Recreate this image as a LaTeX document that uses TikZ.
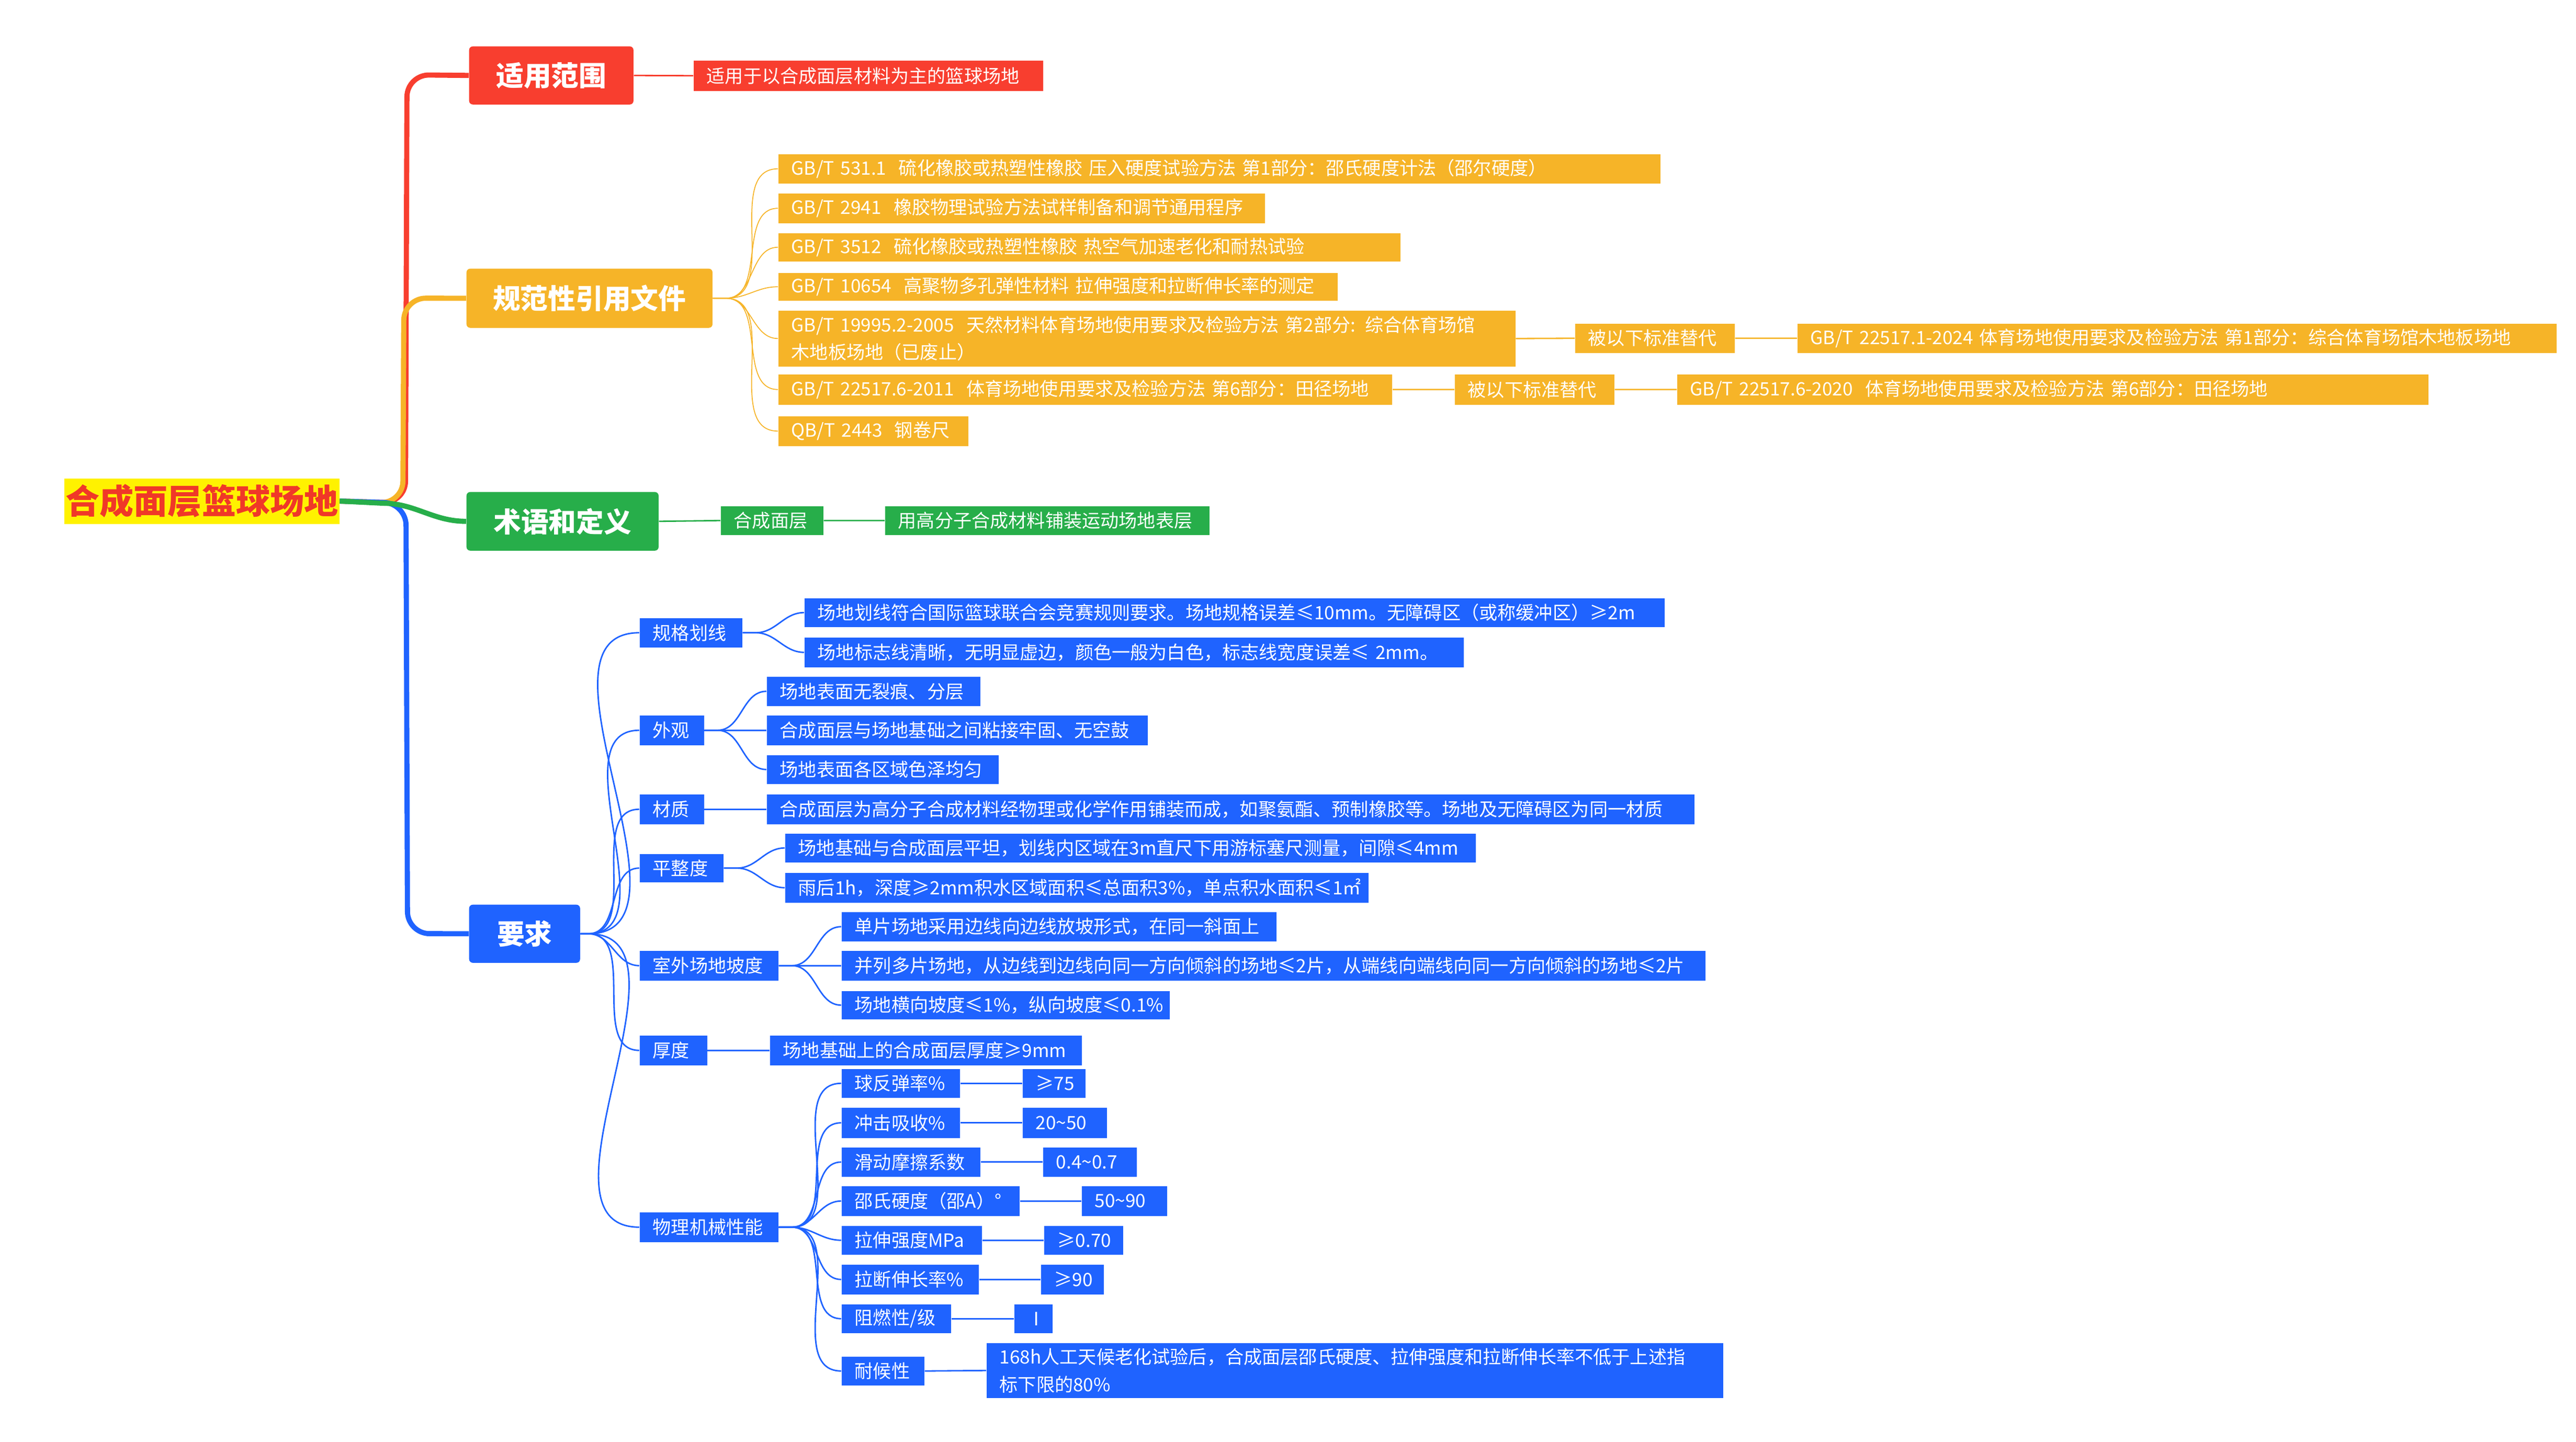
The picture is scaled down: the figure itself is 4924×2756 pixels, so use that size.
\documentclass[tikz,border=0pt]{standalone}
\usepackage{fontspec}
\setmainfont{Noto Sans CJK SC}
\definecolor{cR}{RGB}{248,62,47}
\definecolor{cO}{RGB}{246,180,40}
\definecolor{cG}{RGB}{39,174,74}
\definecolor{cB}{RGB}{31,99,255}
\definecolor{cRoot}{RGB}{240,56,40}
\newcommand{\mybox}[7]{%
 \pgfmathsetmacro{\mybw}{(#4-#2)/100}\pgfmathsetmacro{\mybh}{(#5-#3)/100}\pgfmathsetmacro{\mytw}{(#4-#2)/100-0.5}%
 \node[anchor=north west, minimum width=\mybw cm, minimum height=\mybh cm, text width=\mytw cm, inner xsep=0.25cm, inner ysep=0pt, align=left, #6] (#1) at (#2,#3) {#7};}
\tikzset{
 leaf/.style={text=white, font=\fontsize{10pt}{15pt}\selectfont},
 lR/.style={leaf, fill=cR}, lO/.style={leaf, fill=cO}, lG/.style={leaf, fill=cG}, lB/.style={leaf, fill=cB},
 mainbox/.style={text=white, font=\fontsize{15pt}{18pt}\selectfont\bfseries, align=center, rounded corners=2pt},
 thick main/.style={line width=2.8pt, rounded corners=12pt},
 sub/.style={line width=0.8pt},
}
\begin{document}
\begin{tikzpicture}[x=0.01cm,y=-0.01cm]
\useasboundingbox (0,0) rectangle (4924,2756);
% root
\node[fill=yellow, text=cRoot, font=\fontsize{18.5pt}{20pt}\selectfont\bfseries, minimum width=5.25cm, minimum height=0.87cm, inner sep=0pt] (root) at (386,958) {合成面层篮球场地};
% main boxes
\mybox{b1}{896}{88}{1210}{199}{mainbox, fill=cR}{适用范围}
\mybox{b2}{891}{513}{1361}{626}{mainbox, fill=cO}{规范性引用文件}
\mybox{b3}{891}{940}{1258}{1052}{mainbox, fill=cG}{术语和定义}
\mybox{b4}{896}{1729}{1108}{1840}{mainbox, fill=cB}{要求}
% main connectors
\draw[thick main, cR] (root.east) -- (775,962) -- (778,143) -- (b1.west);
\draw[thick main, cO] (root.east) -- (770,962) -- (772,570) -- (b2.west);
\draw[thick main, cB] (root.east) -- (776,962) -- (779,1785) -- (b4.west);
\draw[line width=2.8pt, cG] (root.east) -- (730,962) to[out=0,in=180] (b3.west);
% red
\mybox{r1}{1325}{115}{1993}{173}{lR}{适用于以合成面层材料为主的篮球场地}
\draw[sub, cR] (b1.east) -- (r1.west);
% orange
\mybox{o1}{1487}{294}{3172}{350}{lO}{GB/T 531.1\ \ 硫化橡胶或热塑性橡胶 压入硬度试验方法 第1部分：邵氏硬度计法（邵尔硬度）}
\mybox{o2}{1487}{369}{2417}{426}{lO}{GB/T 2941\ \ 橡胶物理试验方法试样制备和调节通用程序}
\mybox{o3}{1487}{445}{2676}{499}{lO}{GB/T 3512\ \ 硫化橡胶或热塑性橡胶 热空气加速老化和耐热试验}
\mybox{o4}{1487}{521}{2556}{574}{lO}{GB/T 10654\ \ 高聚物多孔弹性材料 拉伸强度和拉断伸长率的测定}
\mybox{o5}{1487}{593}{2895}{700}{lO}{GB/T 19995.2-2005\ \ 天然材料体育场地使用要求及检验方法 第2部分: 综合体育场馆\\木地板场地（已废止）}
\mybox{o5a}{3010}{618}{3315}{674}{lO}{被以下标准替代}
\mybox{o5b}{3435}{618}{4885}{674}{lO}{GB/T 22517.1-2024 体育场地使用要求及检验方法 第1部分：综合体育场馆木地板场地}
\mybox{o6}{1487}{715}{2660}{773}{lO}{GB/T 22517.6-2011\ \ 体育场地使用要求及检验方法 第6部分：田径场地}
\mybox{o6a}{2780}{715}{3085}{773}{lO}{被以下标准替代}
\mybox{o6b}{3205}{715}{4640}{773}{lO}{GB/T 22517.6-2020\ \ 体育场地使用要求及检验方法 第6部分：田径场地}
\mybox{o7}{1487}{795}{1850}{852}{lO}{QB/T 2443\ \ 钢卷尺}
\foreach \c in {o1,o2,o3,o4,o5,o6,o7}
  \draw[line width=0.5pt, cO] (b2.east) -- ++(25,0) to[out=0,in=180] (\c.west);
\draw[sub, cO] (o5.east) -- (o5a.west) (o5a.east) -- (o5b.west) (o6.east) -- (o6a.west) (o6a.east) -- (o6b.west);
% green
\mybox{g1}{1377}{967}{1573}{1022}{lG}{合成面层}
\mybox{g2}{1691}{967}{2311}{1022}{lG}{用高分子合成材料铺装运动场地表层}
\draw[sub, cG] (b3.east) -- (g1.west) (g1.east) -- (g2.west);
% blue
\mybox{c1}{1222}{1181}{1418}{1237}{lB}{规格划线}
\mybox{c1a}{1537}{1143}{3180}{1198}{lB}{场地划线符合国际篮球联合会竞赛规则要求。场地规格误差≤10mm。无障碍区（或称缓冲区）≥2m}
\mybox{c1b}{1537}{1218}{2797}{1275}{lB}{场地标志线清晰，无明显虚边，颜色一般为白色，标志线宽度误差≤ 2mm。}
\mybox{c2}{1222}{1367}{1345}{1424}{lB}{外观}
\mybox{c2a}{1465}{1293}{1873}{1349}{lB}{场地表面无裂痕、分层}
\mybox{c2b}{1465}{1367}{2193}{1424}{lB}{合成面层与场地基础之间粘接牢固、无空鼓}
\mybox{c2c}{1465}{1443}{1908}{1498}{lB}{场地表面各区域色泽均匀}
\mybox{c3}{1222}{1518}{1345}{1575}{lB}{材质}
\mybox{c3a}{1465}{1518}{3237}{1575}{lB}{合成面层为高分子合成材料经物理或化学作用铺装而成，如聚氨酯、预制橡胶等。场地及无障碍区为同一材质}
\mybox{c4}{1222}{1632}{1382}{1686}{lB}{平整度}
\mybox{c4a}{1500}{1593}{2819}{1648}{lB}{场地基础与合成面层平坦，划线内区域在3m直尺下用游标塞尺测量，间隙≤4mm}
\mybox{c4b}{1500}{1668}{2615}{1725}{lB}{雨后1h，深度≥2mm积水区域面积≤总面积3\%，单点积水面积≤1㎡}
\mybox{c5}{1222}{1817}{1487}{1874}{lB}{室外场地坡度}
\mybox{c5a}{1608}{1743}{2439}{1799}{lB}{单片场地采用边线向边线放坡形式，在同一斜面上}
\mybox{c5b}{1608}{1817}{3258}{1874}{lB}{并列多片场地，从边线到边线向同一方向倾斜的场地≤2片，从端线向端线向同一方向倾斜的场地≤2片}
\mybox{c5c}{1608}{1894}{2235}{1948}{lB}{场地横向坡度≤1\%，纵向坡度≤0.1\%}
\mybox{c6}{1222}{1979}{1351}{2036}{lB}{厚度}
\mybox{c6a}{1471}{1979}{2067}{2036}{lB}{场地基础上的合成面层厚度≥9mm}
\mybox{c7}{1222}{2317}{1487}{2374}{lB}{物理机械性能}
\mybox{p1}{1608}{2043}{1834}{2098}{lB}{球反弹率\%}
\mybox{v1}{1954}{2043}{2074}{2098}{lB}{≥75}
\mybox{p2}{1608}{2117}{1834}{2175}{lB}{冲击吸收\%}
\mybox{v2}{1954}{2117}{2115}{2175}{lB}{20\char`\~50}
\mybox{p3}{1608}{2193}{1873}{2249}{lB}{滑动摩擦系数}
\mybox{v3}{1993}{2193}{2172}{2249}{lB}{0.4\char`\~0.7}
\mybox{p4}{1608}{2267}{1948}{2324}{lB}{邵氏硬度（邵A）°}
\mybox{v4}{2067}{2267}{2230}{2324}{lB}{50\char`\~90}
\mybox{p5}{1608}{2343}{1876}{2398}{lB}{拉伸强度MPa}
\mybox{v5}{1995}{2343}{2146}{2398}{lB}{≥0.70}
\mybox{p6}{1608}{2417}{1870}{2474}{lB}{拉断伸长率\%}
\mybox{v6}{1989}{2417}{2109}{2474}{lB}{≥90}
\mybox{p7}{1608}{2493}{1817}{2548}{lB}{阻燃性/级}
\mybox{v7}{1938}{2493}{2011}{2548}{lB}{Ⅰ}
\mybox{p8}{1608}{2593}{1766}{2648}{lB}{耐候性}
\mybox{v8}{1885}{2567}{3292}{2672}{lB}{168h人工天候老化试验后，合成面层邵氏硬度、拉伸强度和拉断伸长率不低于上述指\\标下限的80\%}
\foreach \c in {c1,c2,c3,c4,c5,c6,c7}
  \draw[sub, cB] (b4.east) -- ++(15,0) to[out=0,in=180] (\c.west);
\foreach \p/\c in {c1/c1a,c1/c1b,c2/c2a,c2/c2b,c2/c2c,c4/c4a,c4/c4b,c5/c5a,c5/c5b,c5/c5c,c7/p1,c7/p2,c7/p3,c7/p4,c7/p5,c7/p6,c7/p7,c7/p8}
  \draw[sub, cB] (\p.east) -- ++(25,0) to[out=0,in=180] (\c.west);
\foreach \p/\c in {c3/c3a,c6/c6a,p1/v1,p2/v2,p3/v3,p4/v4,p5/v5,p6/v6,p7/v7,p8/v8}
  \draw[sub, cB] (\p.east) -- (\c.west);
\end{tikzpicture}
\end{document}
